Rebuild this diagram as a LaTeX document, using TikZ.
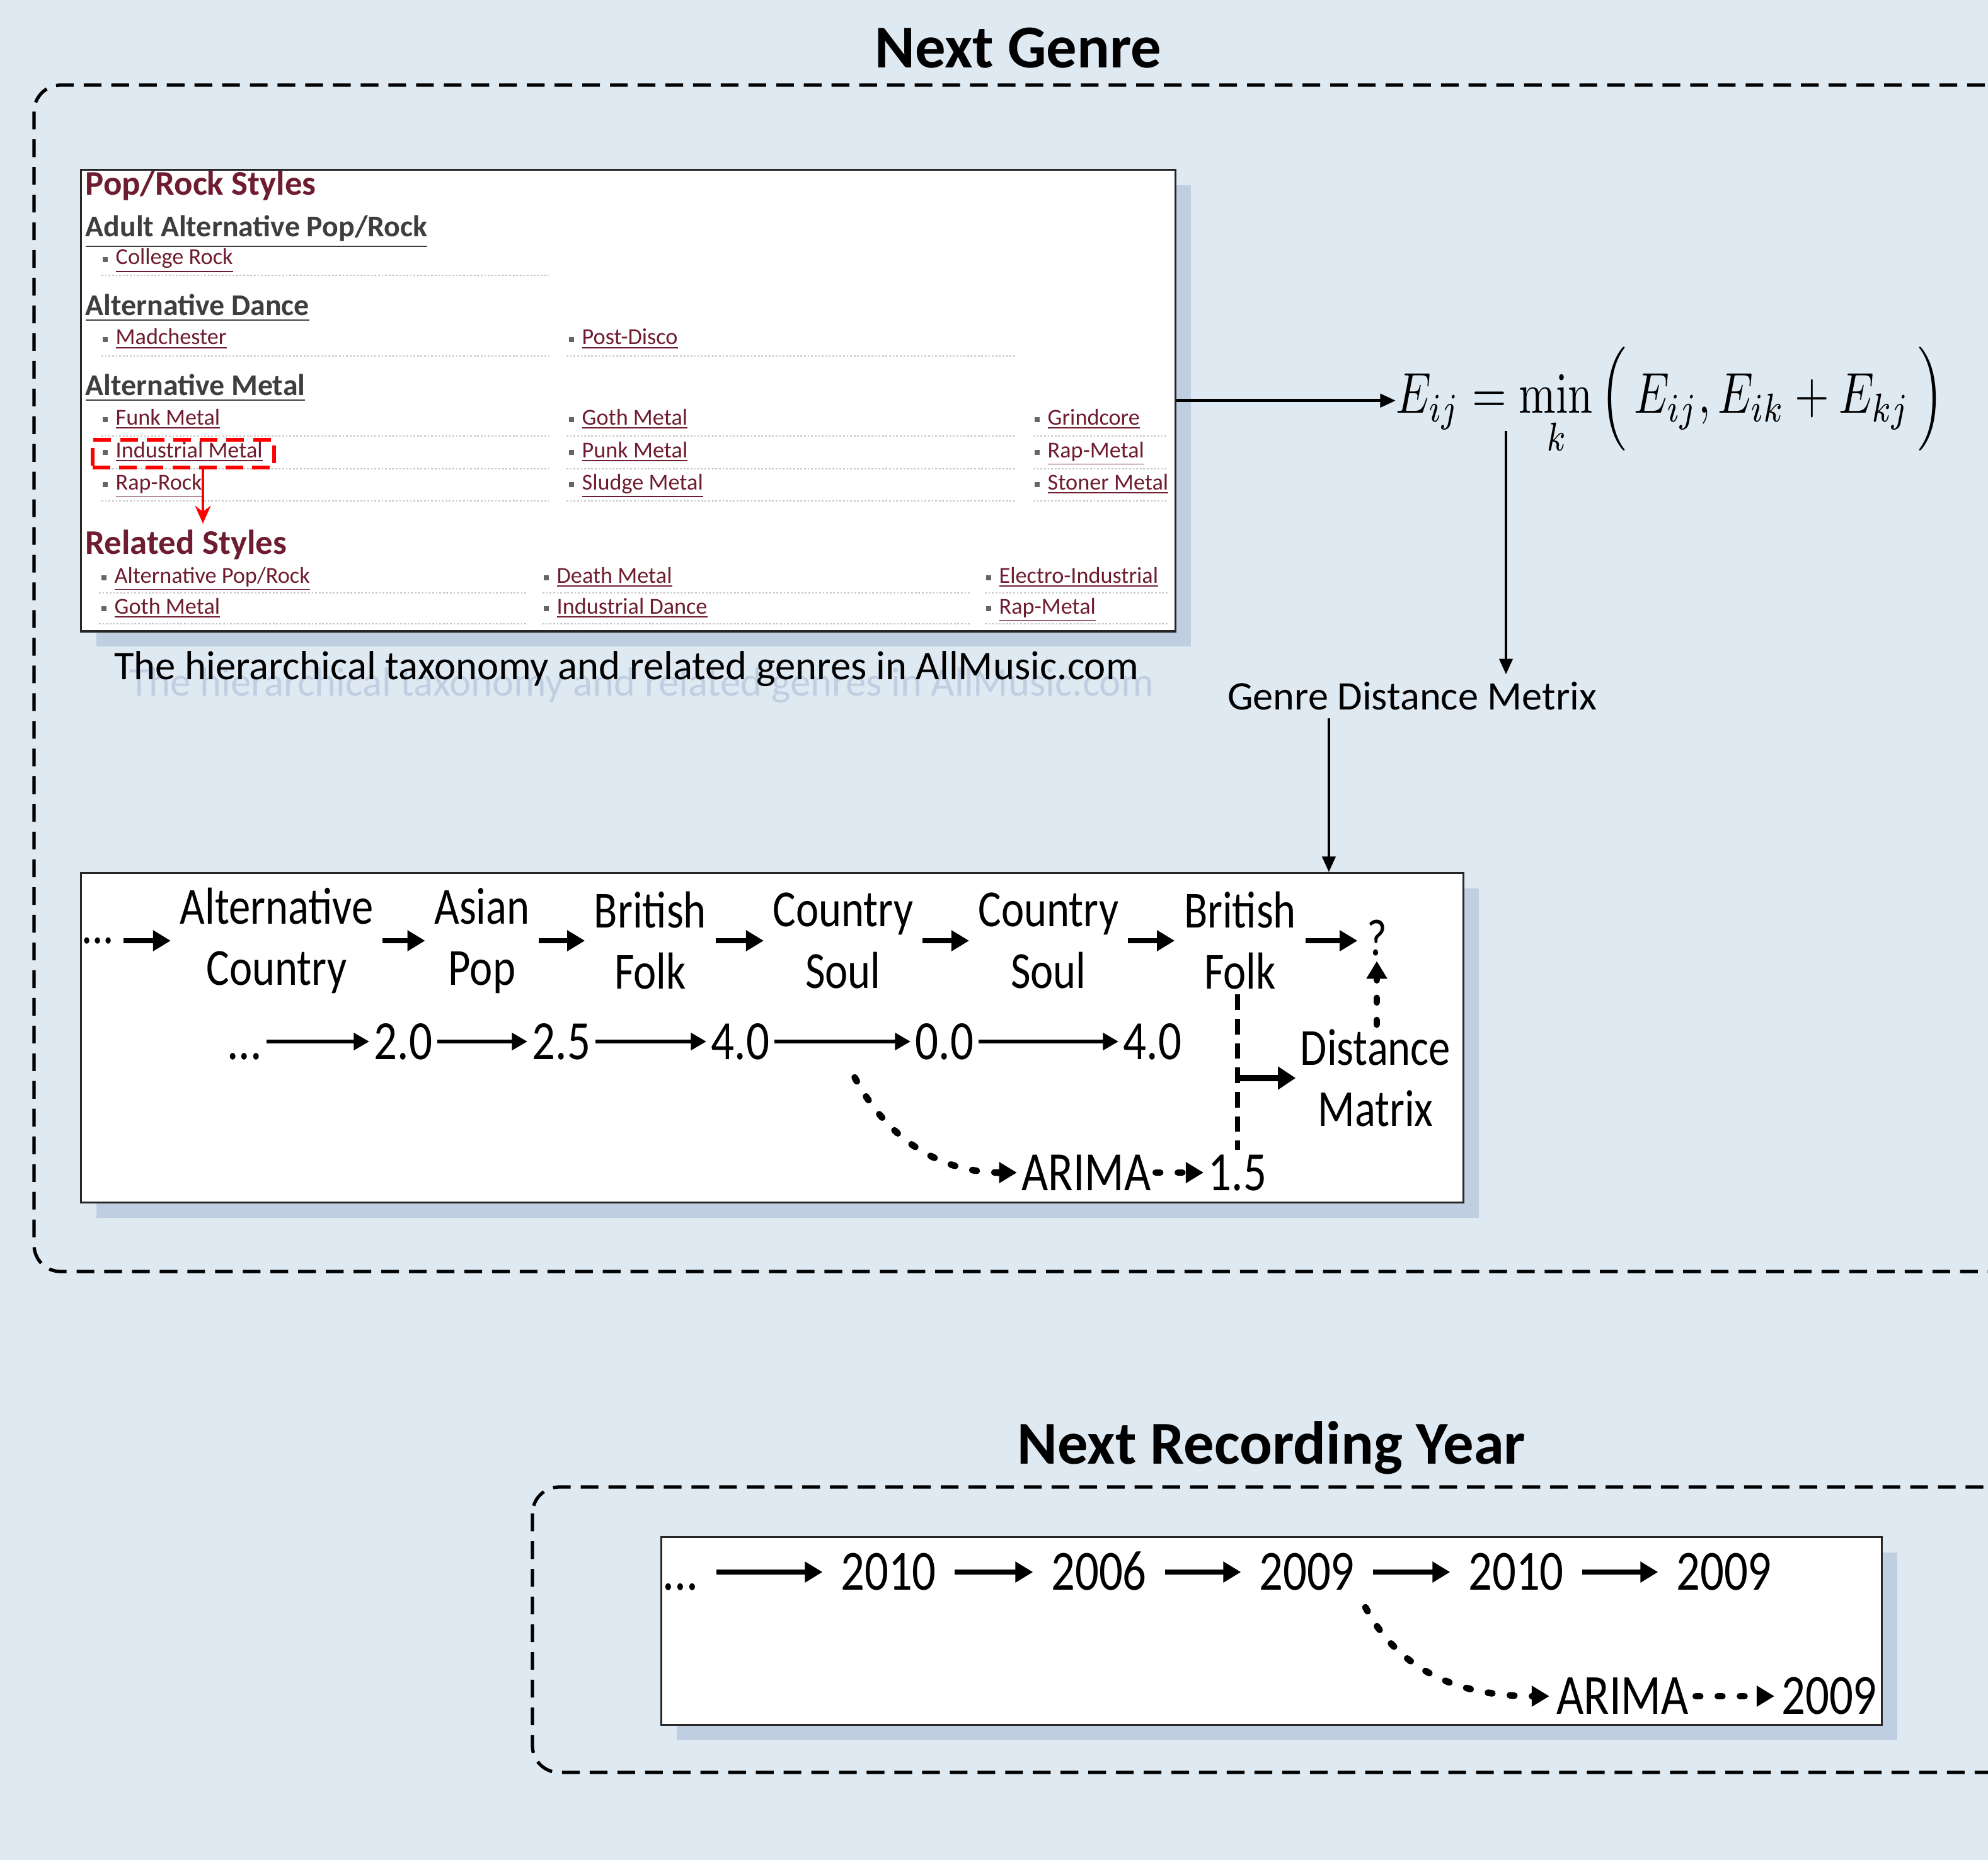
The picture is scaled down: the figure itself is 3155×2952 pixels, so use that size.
\documentclass[tikz,border=0pt]{standalone}
\usepackage{amsmath}
\usepackage{graphicx}
\usepackage[no-math]{fontspec}
\setmainfont{Carlito}[FakeStretch=0.83]
\newfontfamily\plainfont{Carlito}
\usetikzlibrary{arrows.meta, positioning, calc}
\definecolor{bgblue}{RGB}{223,233,242}
\definecolor{shadowblue}{RGB}{192,206,225}
\definecolor{amred}{RGB}{110,28,48}
\definecolor{amgray}{RGB}{62,62,62}
\tikzset{
  panel/.style={draw=black!85, line width=0.9pt, fill=white, anchor=north west, inner sep=0pt,
    preaction={fill=shadowblue, transform canvas={xshift=0.24cm, yshift=-0.24cm}}},
  groupframe/.style={line width=1.5pt, dash pattern=on 8pt off 4.5pt, rounded corners=12pt},
  headtitle/.style={font=\plainfont\bfseries\fontsize{27.5}{31}\selectfont},
  genre/.style={align=center, font=\fontsize{23.5}{27.6}\selectfont, inner sep=2pt},
  num/.style={font=\fontsize{25}{28}\selectfont, inner sep=2pt, text height=16pt, text depth=0pt},
  year/.style={font=\fontsize{25.6}{29}\selectfont, inner sep=3pt, text height=16.4pt, text depth=0pt},
  seqarrow/.style={-{Triangle[length=8pt,width=9pt]}, line width=2.2pt, shorten <=2pt, shorten >=2pt},
  numarrow/.style={-{Triangle[length=7pt,width=7.5pt]}, line width=1.7pt},
  dotarrow/.style={-{Triangle[length=8pt,width=9pt]}, line width=3pt, dash pattern=on 2pt off 8pt, line cap=round},
  vdash/.style={line width=2.5pt, dash pattern=on 7pt off 4pt},
  fatarrow/.style={-{Triangle[length=8pt,width=10pt]}, line width=3pt},
  plainarrow/.style={-{Triangle[length=7pt,width=6pt]}, line width=1.1pt},
  shotbig/.style={font=\plainfont\bfseries\fontsize{15.6}{17}\selectfont, text=amred, anchor=base west, inner sep=0pt},
  shotsub/.style={font=\plainfont\bfseries\fontsize{13.6}{15}\selectfont, text=amgray, anchor=base west, inner sep=0pt},
  link/.style={font=\plainfont\fontsize{10.3}{12}\selectfont, text=amred, anchor=base west, inner sep=0pt},
  sep/.style={gray!45, line width=0.8pt, dash pattern=on 0.8pt off 0.8pt},
  caption/.style={font=\plainfont\fontsize{18.4}{21}\selectfont}
}

\begin{document}
\begin{tikzpicture}[x=0.01cm, y=-0.01cm]
  \clip (0,0) rectangle (3155,2952);
  \fill[bgblue] (0,0) rectangle (3155,2952);

  % group frames
  \draw[groupframe] (54,135) rectangle (3240,2018);
  \draw[groupframe] (845,2360) rectangle (3240,2813);
  \node[headtitle] (ttlgenre) at (1616,76) {Next Genre};
  \node[headtitle] (ttlyear) at (2018,2298) {Next Recording Year};

  % AllMusic screenshot
  \node[panel, minimum width=17.36cm, minimum height=7.32cm] (shot) at (127,268) {};
  \node[shotbig] (poph) at (135,310) {Pop/Rock Styles};
  \node[shotsub] (adulth) at (135,376) {\underline{Adult Alternative Pop/Rock}};
  \node[shotsub] (danceh) at (135,501) {\underline{Alternative Dance}};
  \node[shotsub] (metalh) at (135,628) {\underline{Alternative Metal}};
  \node[shotbig] (relh) at (135,879) {Related Styles};
  \foreach \x/\y/\t [count=\i] in {183/420/{College Rock}, 183/547/{Madchester}, 923/547/{Post-Disco},
      183/674/{Funk Metal}, 923/674/{Goth Metal}, 1662/674/{Grindcore},
      183/726/{Industrial Metal}, 923/726/{Punk Metal}, 1662/726/{Rap-Metal},
      183/777/{Rap-Rock}, 923/777/{Sludge Metal}, 1662/777/{Stoner Metal},
      181/925/{Alternative Pop/Rock}, 883/925/{Death Metal}, 1585/925/{Electro-Industrial},
      181/974/{Goth Metal}, 883/974/{Industrial Dance}, 1585/974/{Rap-Metal}}{
    \node[link] (lk\i) at (\x,\y) {\underline{\t}};
    \fill[black!60] ([xshift=-0.20cm, yshift=0.04cm]lk\i.base west) rectangle ++(8,-8);
  }
  \foreach \y in {437,565,692,744,795} \draw[sep] (161,\y) -- (871,\y);
  \foreach \y in {565,692,744,795} \draw[sep] (899,\y) -- (1612,\y);
  \foreach \y in {692,744,795} \draw[sep] (1640,\y) -- (1853,\y);
  \foreach \y in {941,990} {
    \draw[sep] (157,\y) -- (835,\y);
    \draw[sep] (861,\y) -- (1539,\y);
    \draw[sep] (1563,\y) -- (1853,\y);
  }
  \node[draw=red, line width=1.5pt, dash pattern=on 8pt off 4pt, minimum width=2.88cm,
    minimum height=0.44cm, inner sep=0pt] (indbox) at (291,720) {};
  \coordinate (redtip) at (322,831);
  \draw[-{Stealth[length=8pt,width=7pt]}, red, line width=1.3pt] (indbox.south -| redtip) -- (redtip);

  \node[caption, text=shadowblue] (capfade) at (1018,1088)
    {The hierarchical taxonomy and related genres in AllMusic.com};
  \node[caption] (cap) at (994,1062)
    {The hierarchical taxonomy and related genres in AllMusic.com};

  % Floyd update and distance matrix
  \node[anchor=base west, inner sep=0pt] (eq) at (2215,656)
    {\scalebox{2.0}[2.6]{$E_{ij} = \min\limits_{k}\,\Bigl(\,E_{ij}, E_{ik} + E_{kj}\,\Bigr)$}};
  \draw[plainarrow, line width=1.4pt] (shot.east) -- (shot.east -| eq.west);
  \node[caption, font=\plainfont\fontsize{18.3}{20}\selectfont] (gdm) at (2241,1105) {Genre Distance Metrix};
  \coordinate (eqfoot) at (2390,684);
  \draw[plainarrow] (eqfoot) -- (eqfoot |- gdm.north);
  \coordinate (gdmfoot) at ([xshift=-1.32cm]gdm.south);

  % genre sequence
  \node[panel, minimum width=21.93cm, minimum height=5.23cm] (seqbox) at (127,1384) {};
  \draw[plainarrow] (gdmfoot) -- (gdmfoot |- seqbox.north);
  \node[genre] (g0) at (155,1493) {...};
  \node[genre] (g1) at (439,1493) {Alternative\\Country};
  \node[genre] (g2) at (765,1493) {Asian\\Pop};
  \node[genre] (g3) at (1032,1493) {British\\Folk};
  \node[genre] (g4) at (1338,1493) {Country\\Soul};
  \node[genre] (g5) at (1664,1493) {Country\\Soul};
  \node[genre] (g6) at (1968,1493) {British\\Folk};
  \node[genre] (gq) at (2185,1489) {?};
  \foreach \a/\b in {g0/g1, g1/g2, g2/g3, g3/g4, g4/g5, g5/g6, g6/gq}
    \draw[seqarrow] (\a) -- (\a -| \b.west);

  \node[num] (d0) at (388,1653) {...};
  \node[num] (d1) at (640,1653) {2.0};
  \node[num] (d2) at (891,1653) {2.5};
  \node[num] (d3) at (1175,1653) {4.0};
  \node[num] (d4) at (1499,1653) {0.0};
  \node[num] (d5) at (1829,1653) {4.0};
  \foreach \a/\b in {d0/d1, d1/d2, d2/d3, d3/d4, d4/d5}
    \draw[numarrow] (\a) -- (\b);

  \node[num] (arima) at (1724,1861) {ARIMA};
  \node[num] (pred) at (1964,1861) {1.5};
  \coordinate (c1) at ($(d3)!0.56!(d4)+(0,57)$);
  \draw[dotarrow] (c1) to[out=-62, in=180] (arima);
  \draw[dotarrow] (arima) -- (pred);
  \draw[vdash] (g6.south -| pred.north) -- (pred.north);
  \node[genre] (dm) at (2183,1711) {Distance\\Matrix};
  \draw[fatarrow] (dm.west -| pred.north) -- (dm.west);
  \draw[dotarrow] (dm.north -| gq.south) -- (gq.south);

  % recording year sequence
  \node[panel, minimum width=19.36cm, minimum height=2.98cm] (yearbox) at (1048,2438) {};
  \node[year] (y0) at (1080,2495) {...};
  \node[year] (y1) at (1410,2495) {2010};
  \node[year] (y2) at (1744,2495) {2006};
  \node[year] (y3) at (2074,2495) {2009};
  \node[year] (y4) at (2406,2495) {2010};
  \node[year] (y5) at (2736,2495) {2009};
  \foreach \a/\b in {y0/y1, y1/y2, y2/y3, y3/y4, y4/y5}
    \draw[seqarrow, shorten <=5pt, shorten >=5pt] (\a) -- (\b);
  \node[year] (arima2) at (2575,2692) {ARIMA};
  \node[year] (next2) at (2903,2692) {2009};
  \coordinate (c2) at ($(y3)!0.28!(y4)+(0,56)$);
  \draw[dotarrow] (c2) to[out=-62, in=180] (arima2);
  \draw[dotarrow] (arima2) -- (next2);
\end{tikzpicture}
\end{document}
